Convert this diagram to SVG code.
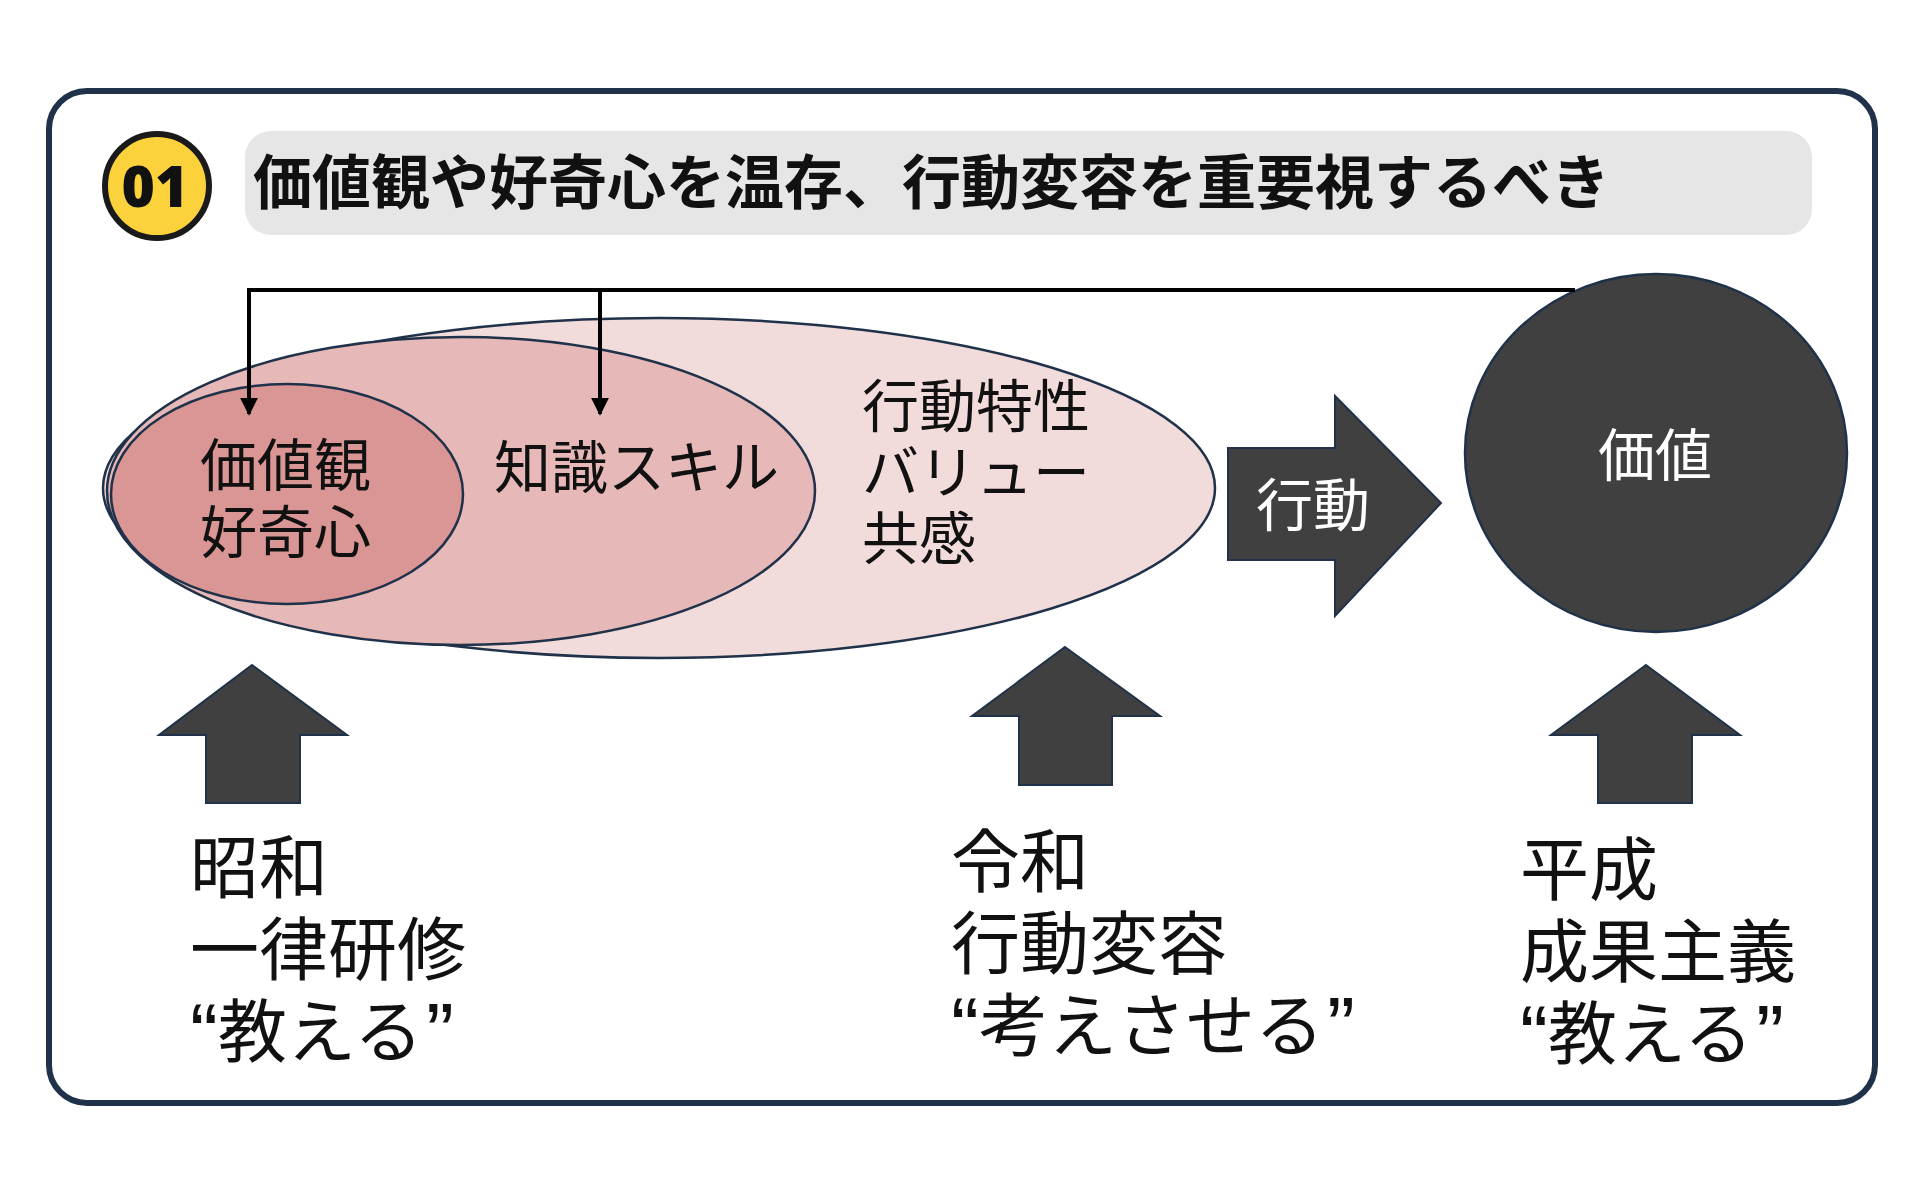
<svg xmlns="http://www.w3.org/2000/svg" width="1920" height="1197" viewBox="0 0 1920 1197">
<defs>
<style>
.jp{font-family:"Noto Sans CJK JP","Noto Sans",sans-serif;}
.body{font-family:"Noto Sans CJK JP","Noto Sans",sans-serif;font-size:57px;fill:#111;}
.big{font-family:"Noto Sans CJK JP","Noto Sans",sans-serif;font-size:69px;fill:#111;}
.q{font-family:"Liberation Sans",Arial,sans-serif;font-size:84px;}
.white{fill:#fff;}
.ell{stroke:#1F3249;stroke-width:2.5;}
.blk{fill:#404040;stroke:#1F3249;stroke-width:2;}
.conn{stroke:#000;stroke-width:4;fill:none;}
</style>
<marker id="ah" viewBox="0 0 10 10" refX="9" refY="5" markerWidth="4.5" markerHeight="4.5" orient="auto" markerUnits="strokeWidth">
<path d="M0,0 L10,5 L0,10 z" fill="#000"/>
</marker>
</defs>
<rect width="1920" height="1197" fill="#fff"/>
<rect id="frame" x="49" y="91" width="1826" height="1012" rx="38" ry="38" fill="#fff" stroke="#1F3249" stroke-width="6"/>
<g id="badge">
<circle cx="157" cy="186" r="52" fill="#FBD13C" stroke="#1a1a1a" stroke-width="6"/>
<text x="155" y="207" text-anchor="middle" font-family="'Noto Sans','Liberation Sans',sans-serif" font-weight="900" font-size="57" fill="#111">01</text>
</g>
<g id="title">
<rect x="245" y="131" width="1567" height="104" rx="26" ry="26" fill="#E6E6E6"/>
<text x="253" y="204" class="jp" font-weight="700" font-size="59" fill="#111">価値観や好奇心を温存、行動変容を重要視するべき</text>
</g>
<g id="ellipses">
<g id="e-outer"><ellipse cx="659" cy="488" rx="556" ry="170" fill="#F2DCDB" class="ell"/></g>
<g id="e-mid"><ellipse cx="461" cy="491" rx="354" ry="154" fill="#E6B9B8" class="ell"/></g>
<g id="e-inner"><ellipse cx="287" cy="494" rx="176" ry="110" fill="#D99694" class="ell"/></g>
</g>
<g id="n-values">
<text class="body"><tspan x="200" y="486">価値観</tspan><tspan x="200" y="553">好奇心</tspan></text>
</g>
<g id="n-skill">
<text class="body" x="494" y="488">知識スキル</text>
</g>
<g id="n-behavior">
<text class="body"><tspan x="862" y="427">行動特性</tspan><tspan x="862" y="493">バリュー</tspan><tspan x="862" y="559">共感</tspan></text>
</g>
<g id="n-action">
<path class="blk" d="M1228,448 L1335,448 L1335,396 L1441,503 L1335,616 L1335,560 L1228,560 Z"/>
<text class="body white" x="1256" y="526">行動</text>
</g>
<g id="n-value">
<ellipse cx="1656" cy="453" rx="191" ry="179" fill="#404040" stroke="#1F3249" stroke-width="2.5"/>
<text class="body white" x="1598" y="476">価値</text>
</g>
<g id="connectors">
<path class="conn" d="M1575,290 L249,290 L249,414" marker-end="url(#ah)"/>
<path class="conn" d="M600,290 L600,414" marker-end="url(#ah)"/>
</g>
<g id="n-showa">
<path class="blk" d="M252,665 L347,735 L300,735 L300,803 L206,803 L206,735 L159,735 Z"/>
<text class="big"><tspan x="190" y="893">昭和</tspan><tspan x="190" y="975">一律研修</tspan><tspan x="190" y="1062" class="q">“</tspan><tspan y="1057">教える</tspan><tspan class="q" dx="3" y="1062">”</tspan></text>
</g>
<g id="n-reiwa">
<path class="blk" d="M1065,647 L1160,716 L1112,716 L1112,785 L1019,785 L1019,716 L972,716 Z"/>
<text class="big"><tspan x="951" y="887">令和</tspan><tspan x="951" y="969">行動変容</tspan><tspan x="951" y="1056" class="q">“</tspan><tspan y="1051">考えさせる</tspan><tspan class="q" dx="3" y="1056">”</tspan></text>
</g>
<g id="n-heisei">
<path class="blk" d="M1646,665 L1740,735 L1692,735 L1692,803 L1598,803 L1598,735 L1551,735 Z"/>
<text class="big"><tspan x="1520" y="895">平成</tspan><tspan x="1520" y="977">成果主義</tspan><tspan x="1520" y="1064" class="q">“</tspan><tspan y="1059">教える</tspan><tspan class="q" dx="3" y="1064">”</tspan></text>
</g>
</svg>
